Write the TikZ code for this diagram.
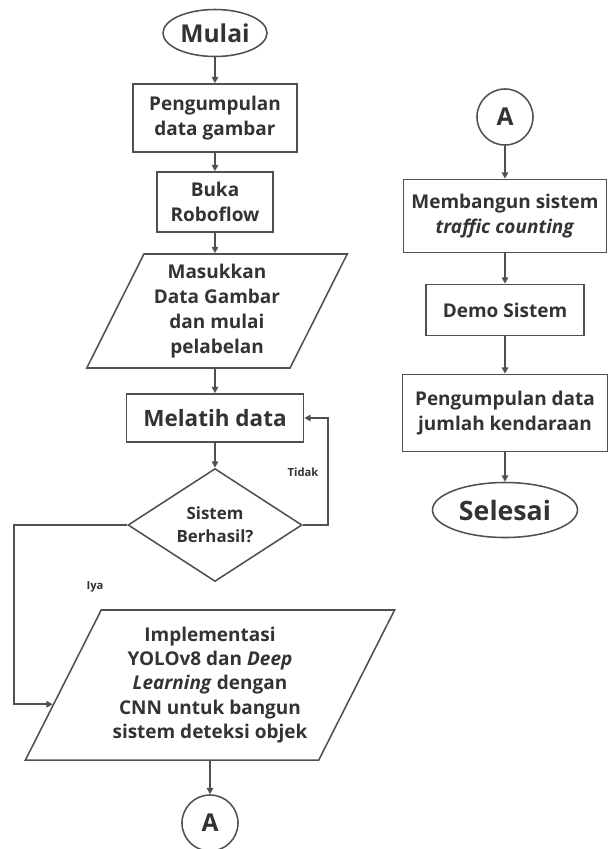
\documentclass[tikz,border=0pt]{standalone}
\usepackage{fontspec}
\setmainfont{Open Sans}
\usepackage{xcolor}
\usetikzlibrary{arrows.meta,positioning,shapes.geometric,calc}
\definecolor{ink}{HTML}{333333}
\definecolor{lineclr}{HTML}{505050}
\newcommand{\bodyfont}{\fontsize{13.5}{17.7}\selectfont\bfseries}
\newcommand{\bigfont}{\fontsize{17.5}{21}\selectfont\bfseries}
\tikzset{
  term/.style={draw=lineclr, ellipse, line width=1.1pt, text=ink, font=\bigfont, inner sep=0pt},
  proc/.style={draw=lineclr, rectangle, line width=1.1pt, text=ink, align=center, font=\bodyfont, inner sep=2pt},
  iobox/.style={draw=lineclr, trapezium, trapezium stretches=true, line width=1.1pt, text=ink,
                align=center, font=\bodyfont, inner sep=0pt},
  decide/.style={draw=lineclr, diamond, line width=1.1pt, text=ink, align=center, inner sep=0pt,
                 font=\fontsize{12}{16.3}\selectfont\bfseries},
  conn/.style={draw=lineclr, circle, line width=1.1pt, minimum size=1.4cm, inner sep=0pt,
               text=ink, font=\bigfont},
  lbl/.style={text=ink, font=\fontsize{8}{10}\selectfont\bfseries},
  flow/.style={-{Triangle[length=4.5pt,width=4.5pt]}, line width=1.1pt, draw=lineclr},
}

\begin{document}
\begin{tikzpicture}[x=0.025cm, y=-0.025cm]
  \useasboundingbox (0,0) rectangle (614,849);
  % Left column
  \node[term, minimum width=2.6cm, minimum height=1.175cm] (mulai) at (215,33) {Mulai};
  \node[proc, minimum width=4.1cm, minimum height=1.7cm] (kumpul) at (215,118) {Pengumpulan\\data gambar};
  \node[proc, minimum width=2.9cm, minimum height=1.5cm] (buka) at (215,202) {Buka\\Roboflow};
  \node[iobox, trapezium left angle=62.2, trapezium right angle=117.8,
        minimum width=6.525cm, minimum height=2.85cm] (label) at (217,311)
        {Masukkan\\Data Gambar\\dan mulai\\pelabelan};
  \node[proc, minimum width=4.425cm, minimum height=1.2cm, font=\fontsize{16}{19}\selectfont\bfseries]
        (latih) at (215,418) {Melatih data};
  \node[decide, minimum width=4.35cm, minimum height=2.425cm] (cek) at (215,525) {Sistem\\Berhasil?};
  \node[iobox, trapezium left angle=59.6, trapezium right angle=120.4,
        minimum width=9.25cm, minimum height=3.75cm, font=\fontsize{13.5}{17.2}\selectfont\bfseries]
        (impl) at (210,685)
        {Implementasi\\YOLOv8 dan \textit{Deep}\\\textit{Learning} dengan\\CNN untuk bangun\\sistem deteksi objek};
  \node[conn] (keA) at (210,823) {A};
  \draw[flow] (mulai) -- (kumpul);
  \draw[flow] (kumpul) -- (buka);
  \draw[flow] (buka) -- (buka |- label.north);
  \draw[flow] (buka |- label.south) -- (latih);
  \draw[flow] (latih) -- (cek);
  \draw[flow] (impl.south -| keA) -- (keA);
  % Loops out of the decision
  \coordinate (tidakR) at (328,525);
  \draw[flow] (cek.east) -- (tidakR) |- (latih.east);
  \node[lbl] (tidak) at (303,472) {Tidak};
  \coordinate (iyaL) at (14,525);
  \coordinate (iyaIn) at ($(impl.bottom left corner)!0.373!(impl.top left corner)$);
  \draw[flow] (cek.west) -- (iyaL) |- (iyaIn);
  \node[lbl] (iya) at (95,587) {Iya};
  % Right column
  \node[conn] (dariA) at (505,117) {A};
  \node[proc, minimum width=5.075cm, minimum height=1.825cm] (bangun) at (505,216)
        {Membangun sistem\\\textit{traffic counting}};
  \node[proc, minimum width=3.95cm, minimum height=1.275cm] (demo) at (505,310) {Demo Sistem};
  \node[proc, minimum width=5.125cm, minimum height=1.925cm] (jumlah) at (505,413)
        {Pengumpulan data\\jumlah kendaraan};
  \node[term, minimum width=3.625cm, minimum height=1.375cm, font=\fontsize{19}{22}\selectfont\bfseries]
        (selesai) at (505,510) {Selesai};
  \draw[flow] (dariA) -- (bangun);
  \draw[flow] (bangun) -- (demo);
  \draw[flow] (demo) -- (jumlah);
  \draw[flow] (jumlah) -- (selesai);
\end{tikzpicture}
\end{document}
